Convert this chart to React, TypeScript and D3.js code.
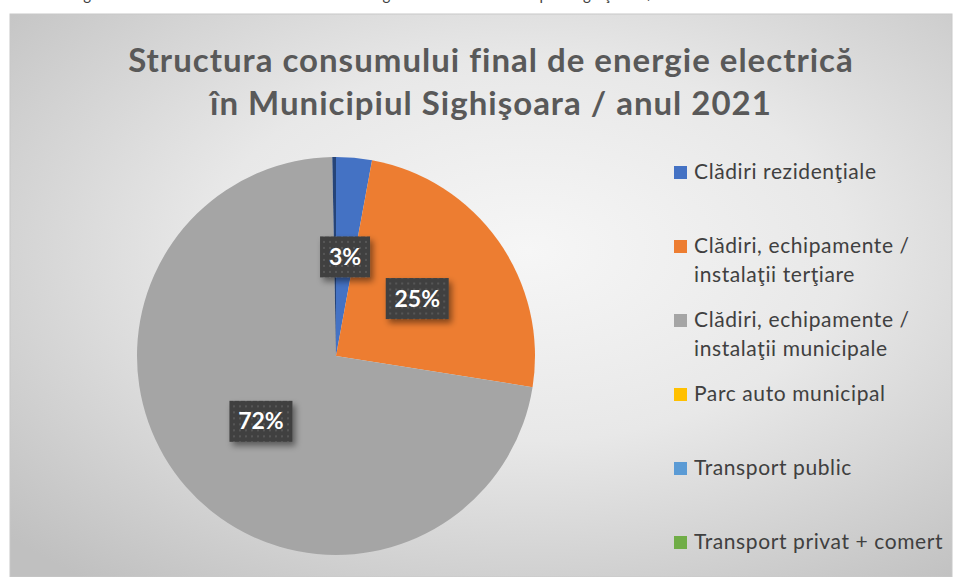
import * as d3 from "d3";
import React from "react";

// categories shown in the legend (lines already wrapped like the original)
const legendLines: string[][] = [
  ["Clădiri rezidenţiale"],
  ["Clădiri, echipamente /", "instalaţii terţiare"],
  ["Clădiri, echipamente /", "instalaţii municipale"],
  ["Parc auto municipal"],
  ["Transport public"],
  ["Transport privat + comert"],
];
// share of consumption (%), last entry is the small unlabelled sliver
const values = [2.9, 24.6, 72.2, 0, 0, 0, 0.3];
const colors = ["#4472C4", "#ED7D31", "#A5A5A5", "#FFC000", "#5B9BD5", "#70AD47", "#264478"];
const titleLines = ["Structura consumului final de energie electrică", "în Municipiul Sighişoara / anul 2021"];
const captionText = "Figura 5. Structura consumului final de energie electrică în Municipiul Sighişoara / anul 2021";

const W = 956;
const H = 577;

export default function App() {
  const cx = 336;
  const cy = 356;
  const radius = 199;

  const pie = d3.pie<number>().sort(null).value(d => d);
  const arcs = pie(values);
  const arc = d3.arc<d3.PieArcDatum<number>>().innerRadius(0).outerRadius(radius);
  const total = d3.sum(values);

  const legendY = d3.scaleLinear().domain([0, legendLines.length - 1]).range([172, 542]);

  return (
    <svg width={W} height={H} style={{ position: "absolute", left: 0, top: 0, fontFamily: "Lato, 'Open Sans', sans-serif" }}>
      <defs>
        <radialGradient id="bg" cx="55%" cy="42%" r="75%">
          <stop offset="0%" stopColor="#f6f6f6" />
          <stop offset="45%" stopColor="#e8e8e8" />
          <stop offset="100%" stopColor="#c0c0c0" />
        </radialGradient>
        <pattern id="dots" width="6" height="6" patternUnits="userSpaceOnUse">
          <rect width="6" height="6" fill="#404040" />
          <rect x="2" y="2" width="2" height="2" fill="#575757" />
        </pattern>
        <filter id="shadow" x="-30%" y="-30%" width="170%" height="180%">
          <feDropShadow dx="3" dy="4" stdDeviation="3" floodColor="#000" floodOpacity="0.45" />
        </filter>
      </defs>

      <rect x={0} y={0} width={W} height={H} fill="#fff" />
      {/* caption of the document, cut by the top of the picture */}
      <text x={70} y={0} fontSize={15} fill="#404040" letterSpacing={0.6}>{captionText}</text>

      <rect x={10} y={14} width={942} height={H - 14} fill="url(#bg)" stroke="#c8c8c8" />

      {titleLines.map((t, i) => (
        <text key={i} x={491} y={72 + i * 43} textAnchor="middle" fontSize={33} fontWeight="bold" fill="#595959" letterSpacing={1}>
          {t}
        </text>
      ))}

      <g transform={`translate(${cx},${cy})`}>
        {arcs.map((a, i) => (
          <path key={i} d={arc(a) || ""} fill={colors[i]} />
        ))}
        {arcs.map((a, i) => {
          const pct = (a.data / total) * 100;
          if (pct < 1) return null;
          const [lx, ly] = arc.centroid(a);
          const label = `${Math.round(pct)}%`;
          const bw = label.length * 13 + 24;
          const bh = 41;
          return (
            <g key={i} transform={`translate(${lx},${ly})`}>
              <rect x={-bw / 2} y={-bh / 2} width={bw} height={bh} fill="url(#dots)" filter="url(#shadow)" />
              <text x={0} y={8} textAnchor="middle" fontSize={23} fontWeight="bold" fill="#fff">
                {label}
              </text>
            </g>
          );
        })}
      </g>

      <g>
        {legendLines.map((lines, i) => (
          <g key={i} transform={`translate(674,${legendY(i)})`}>
            <rect x={0} y={-6} width={13} height={13} fill={colors[i]} />
            {lines.map((l, j) => (
              <text key={j} x={20} y={7 + j * 29} fontSize={21} fill="#404040" letterSpacing={0.6}>
                {l}
              </text>
            ))}
          </g>
        ))}
      </g>
    </svg>
  );
}
